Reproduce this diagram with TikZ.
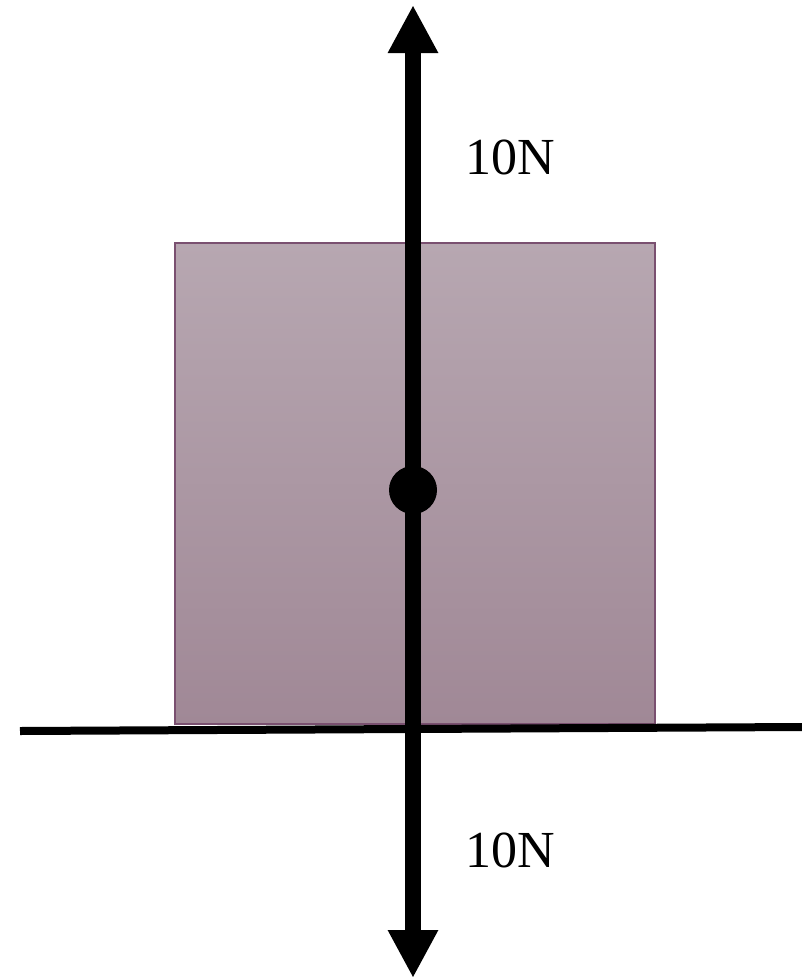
\documentclass[tikz,border=0pt]{standalone}
\usepackage{fontspec}
\setmainfont{Liberation Serif}
\usetikzlibrary{arrows.meta}
\definecolor{boxtop}{HTML}{B7A7B1}
\definecolor{boxbot}{HTML}{A08896}
\definecolor{boxedge}{HTML}{7A5070}
\tikzset{
  force/.style={line width=16pt,-{Triangle[length=48pt,width=47pt]}},
  lbl/.style={font=\fontsize{52}{60}\selectfont, inner sep=0pt},
  block/.style={draw=boxedge, line width=1.2pt, top color=boxtop, bottom color=boxbot},
}
\begin{document}
\begin{tikzpicture}[x=1pt,y=-1pt]
\useasboundingbox (0,0) rectangle (802,980);
\path[block] (175,243) rectangle (655,724);
\coordinate (gl) at (20,731);
\coordinate (gr) at (802,727);
\draw[line width=8pt] (gl) -- (gr);
\coordinate (c) at (413,490);
\coordinate (top) at (413,5);
\coordinate (bot) at (413,978);
\draw[force] (c) -- (top);
\draw[force] (c) -- (bot);
\node[circle, fill=black, minimum size=48pt, inner sep=0pt] (dot) at (c) {};
\node[lbl, anchor=base west] (fu) at (465,174) {10N};
\node[lbl, anchor=base west] (fd) at (465,867) {10N};
\end{tikzpicture}
\end{document}
